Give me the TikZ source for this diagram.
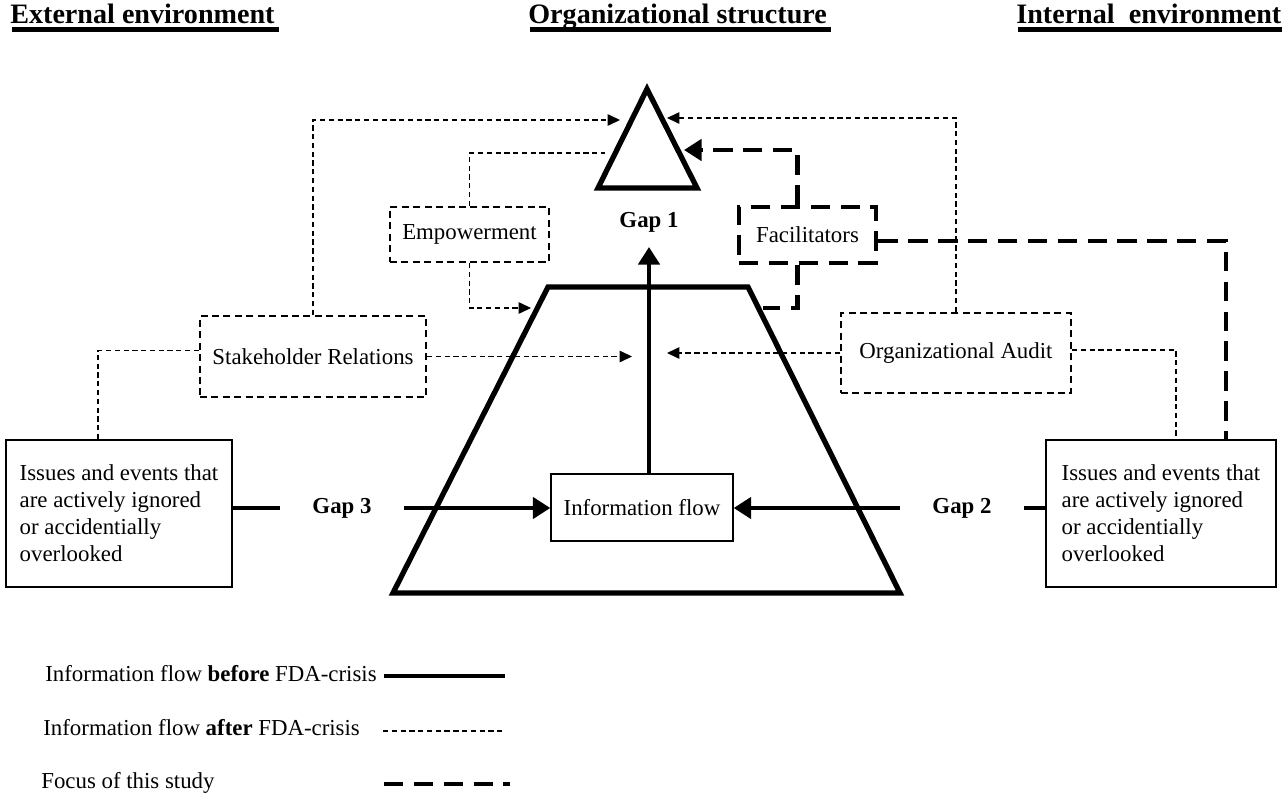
\documentclass[tikz,border=0pt]{standalone}
\usepackage{fontspec}
\setmainfont{Liberation Serif}
\usetikzlibrary{arrows.meta,calc}

\begin{document}
\begin{tikzpicture}[x=0.02cm,y=-0.02cm,font=\fontsize{13pt}{15.4pt}\selectfont,
  before/.style={line width=2.6pt},
  after/.style={line width=0.7pt,dash pattern=on 3pt off 2pt},
  focus/.style={line width=2.8pt,dash pattern=on 11pt off 6pt},
  bigtip/.style={-{Triangle[length=10pt,width=12pt]}},
  smalltip/.style={-{Triangle[length=7pt,width=6.5pt]}},
  solidbox/.style={draw,line width=0.75pt,inner sep=0pt,align=left},
  afterbox/.style={draw,line width=1.1pt,dash pattern=on 4pt off 2.5pt,inner sep=0pt},
  focusbox/.style={draw,line width=2.8pt,dash pattern=on 11pt off 6pt,inner sep=0pt},
  gaplabel/.style={font=\fontsize{13pt}{15.4pt}\selectfont\bfseries,inner xsep=0.64cm},
  title/.style={font=\fontsize{16pt}{19pt}\selectfont\bfseries,inner sep=0pt,anchor=base west}]
  \useasboundingbox (0,0) rectangle (1282,798);

  \node[title] (ext) at (10,23) {External environment};
  \node[title] (org) at (528,23) {Organizational structure};
  \node[title] (int) at (1016,23) {Internal\ \ environment};
  \foreach \t in {ext,org,int} \draw[line width=2.8pt] ($(\t.base west)+(2,6.5)$) -- ($(\t.base east)+(4,6.5)$);

  \coordinate (T) at (647,89); \coordinate (TL) at (598,188); \coordinate (TR) at (697,188);
  \draw[line width=3pt] (T) -- (TL) -- (TR) -- cycle;
  \draw[line width=3pt] (548,287) -- (748,287) -- (900,593) -- (393,593) -- cycle;

  \node[solidbox,minimum width=4.52cm,minimum height=2.94cm] (issL) at (119,513.5) {Issues and events that\\are actively ignored\\or accidentially\\overlooked};
  \node[solidbox,minimum width=4.6cm,minimum height=2.94cm] (issR) at (1161,513.5) {Issues and events that\\are actively ignored\\or accidentially\\overlooked};
  \node[solidbox,minimum width=3.64cm,minimum height=1.34cm] (info) at (642,507.5) {Information flow};
  \node[afterbox,minimum width=4.52cm,minimum height=1.62cm] (stake) at (313,356.5) {Stakeholder Relations};
  \node[afterbox,minimum width=4.6cm,minimum height=1.6cm] (audit) at (956,353) {Organizational Audit};
  \node[afterbox,minimum width=3.18cm,minimum height=1.1cm] (empow) at (469.5,234.5) {Empowerment};
  \node[focusbox,minimum width=2.74cm,minimum height=1.12cm] (facil) at (807.5,235) {Facilitators};
  \node[gaplabel] (gap1) at (649,222) {Gap 1};
  \node[gaplabel] (gap3) at (342,508) {Gap 3};
  \node[gaplabel] (gap2) at (962,508) {Gap 2};

  \coordinate (aL) at (620,120); \coordinate (aR) at (667,118); \coordinate (eL) at (605,153);
  \coordinate (fT) at (684,150); \coordinate (zL) at (531,308); \coordinate (zR) at (763,308);
  \coordinate (mL) at (632,356); \coordinate (mR) at (667,356); \coordinate (g1) at (649,247);

  \draw[after,smalltip] (stake.north) |- (aL);
  \draw[after] (empow.north) |- (eL);
  \draw[after,smalltip] (empow.south) |- (zL);
  \draw[after,smalltip] (audit.north) |- (aR);
  \draw[after,smalltip] (stake.east) -- (stake.east -| mL);
  \draw[after,smalltip] (audit.west) -- (audit.west -| mR);
  \draw[after] ($(stake.west)+(0,-6)$) -| ($(issL.north)+(-21,0)$);
  \draw[after] ($(audit.east)+(0,-3)$) -| ($(issR.north)+(15,0)$);

  \draw[focus,bigtip] ($(facil.north)+(-10,0)$) |- (fT);
  \draw[focus] ($(facil.south)+(-10,0)$) |- (zR);
  \draw[focus] ($(facil.east)+(0,6)$) -| ($(issR.north)+(65,0)$);

  \draw[before] (gap3.west -| issL.east) -- (gap3.west);
  \draw[before,bigtip] (gap3.east) -- (gap3.east -| info.west);
  \draw[before,bigtip] (gap2.west) -- (gap2.west -| info.east);
  \draw[before] (gap2.east) -- (gap2.east -| issR.west);
  \draw[before,bigtip] (info.north -| g1) -- (g1);

  \node[anchor=base west,inner sep=0pt] (lg1) at (45,681) {Information flow \textbf{before} FDA-crisis};
  \node[anchor=base west,inner sep=0pt] (lg2) at (43,735) {Information flow \textbf{after} FDA-crisis};
  \node[anchor=base west,inner sep=0pt] (lg3) at (41,788) {Focus of this study};
  \draw[before] (384,676) -- (505,676);
  \draw[after] (383,731) -- (504,731);
  \draw[focus] (384,784) -- (510,784);
\end{tikzpicture}
\end{document}
